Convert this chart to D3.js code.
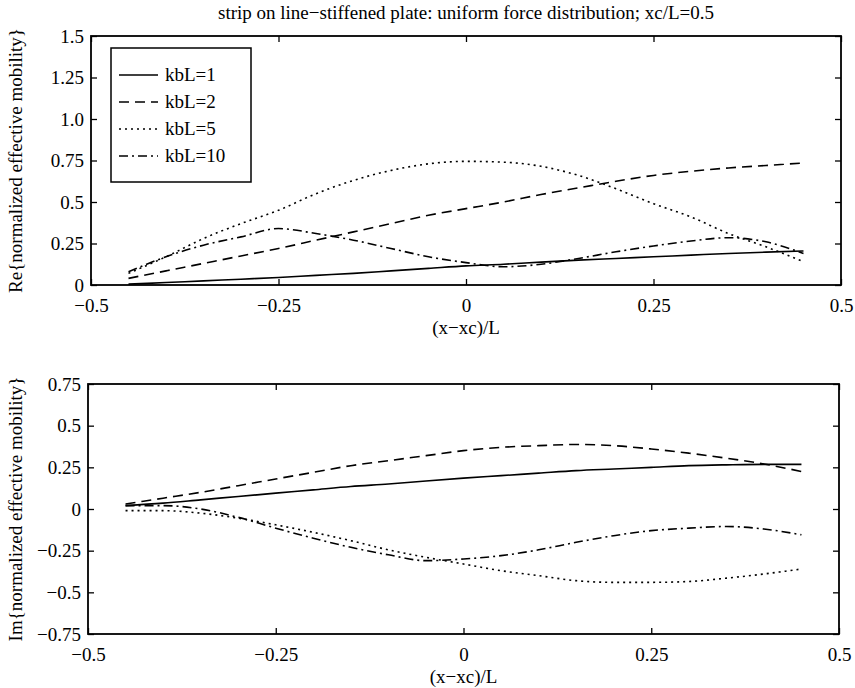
<!DOCTYPE html>
<html>
<head>
<meta charset="utf-8">
<script src="https://cdn.jsdelivr.net/npm/d3@7"></script>
<style>
  body { margin: 0; background: #fff; }
  svg, svg text { font-family: "Liberation Serif", "Times New Roman", serif; }
</style>
</head>
<body>
<div class="chart"></div>
<script>
'use strict';

// values, x = (x-xc)/L
const xPos = [-0.45, -0.4, -0.35, -0.3, -0.25, -0.2, -0.15, -0.1, -0.05, 0,
  0.05, 0.1, 0.15, 0.2, 0.25, 0.3, 0.35, 0.4, 0.45];
const seriesNames = ["kbL=1", "kbL=2", "kbL=5", "kbL=10"];

// Re{normalized effective mobility}
const reKbl1 = [0.005, 0.015, 0.025, 0.035, 0.045, 0.058, 0.07, 0.085, 0.1, 0.115,
  0.125, 0.138, 0.15, 0.16, 0.17, 0.18, 0.19, 0.198, 0.205];
const reKbl2 = [0.04, 0.085, 0.13, 0.175, 0.22, 0.27, 0.32, 0.37, 0.42, 0.46,
  0.5, 0.545, 0.585, 0.625, 0.66, 0.685, 0.705, 0.72, 0.735];
const reKbl5 = [0.07, 0.17, 0.28, 0.37, 0.45, 0.55, 0.63, 0.69, 0.73, 0.745,
  0.74, 0.715, 0.66, 0.58, 0.49, 0.41, 0.31, 0.23, 0.14];
const reKbl10 = [0.08, 0.17, 0.24, 0.29, 0.34, 0.31, 0.27, 0.22, 0.17, 0.135,
  0.11, 0.125, 0.16, 0.2, 0.235, 0.265, 0.285, 0.26, 0.19];

// Im{normalized effective mobility}
const imKbl1 = [0.02, 0.035, 0.055, 0.075, 0.095, 0.115, 0.135, 0.15, 0.168, 0.185,
  0.2, 0.215, 0.23, 0.24, 0.25, 0.26, 0.265, 0.268, 0.268];
const imKbl2 = [0.03, 0.065, 0.1, 0.14, 0.18, 0.22, 0.26, 0.29, 0.32, 0.35,
  0.37, 0.38, 0.387, 0.38, 0.36, 0.335, 0.305, 0.27, 0.225];
const imKbl5 = [-0.01, -0.01, -0.025, -0.055, -0.095, -0.14, -0.19, -0.245, -0.29, -0.33,
  -0.37, -0.4, -0.43, -0.44, -0.44, -0.435, -0.415, -0.39, -0.36];
const imKbl10 = [0.02, 0.02, 0.0, -0.05, -0.115, -0.175, -0.23, -0.275, -0.31, -0.3,
  -0.28, -0.245, -0.2, -0.16, -0.13, -0.115, -0.105, -0.12, -0.155];

const xTicks = [-0.5, -0.25, 0, 0.25, 0.5];
const xTickLabels = ["\u22120.5", "\u22120.25", "0", "0.25", "0.5"];
const reTicks = [0, 0.25, 0.5, 0.75, 1.0, 1.25, 1.5];
const reTickLabels = ["0", "0.25", "0.5", "0.75", "1.0", "1.25", "1.5"];
const imTicks = [-0.75, -0.5, -0.25, 0, 0.25, 0.5, 0.75];
const imTickLabels = ["\u22120.75", "\u22120.5", "\u22120.25", "0", "0.25", "0.5", "0.75"];

document.addEventListener('DOMContentLoaded', () => {

  const width = 855, height = 688;
  const fontSize = 19;
  const serif = "Liberation Serif, Times New Roman, serif";
  const dashes = [null, "10,6", "2,4", "9,4,2,4"];

  const svg = d3.select(".chart")
    .append("svg")
    .attr("width", width)
    .attr("height", height)
    .attr("font-family", serif);

  // title
  svg.append("text")
    .attr("x", 466)
    .attr("y", 19)
    .attr("text-anchor", "middle")
    .attr("font-size", 19)
    .text("strip on line\u2212stiffened plate: uniform force distribution; xc/L=0.5");

  function panel(opt) {
    const w = opt.w, h = opt.h;
    const g = svg.append("g")
      .attr("transform", `translate(${opt.left}, ${opt.top})`);

    const xScale = d3.scaleLinear().domain([-0.5, 0.5]).range([0, w]);
    const yScale = d3.scaleLinear().domain(opt.yDomain).range([h, 0]);

    // axes, ticks pointing inward like matlab
    const xAxis = d3.axisBottom(xScale).tickValues(xTicks)
      .tickFormat((d, i) => xTickLabels[i]).tickSize(-6).tickSizeOuter(0).tickPadding(12);
    const yAxis = d3.axisLeft(yScale).tickValues(opt.yTicks)
      .tickFormat((d, i) => opt.yTickLabels[i]).tickSize(-6).tickSizeOuter(0).tickPadding(7);

    const gx = g.append("g").attr("transform", `translate(0,${h})`).call(xAxis);
    const gy = g.append("g").call(yAxis);
    const gt = g.append("g")
      .call(d3.axisTop(xScale).tickValues(xTicks).tickFormat("").tickSize(-6).tickSizeOuter(0));
    const gr = g.append("g").attr("transform", `translate(${w},0)`)
      .call(d3.axisRight(yScale).tickValues(opt.yTicks).tickFormat("").tickSize(-6).tickSizeOuter(0));

    [gx, gy, gt, gr].forEach(a => a.attr("font-family", serif).attr("font-size", fontSize));
    g.selectAll(".domain").remove();
    g.selectAll(".tick line").attr("stroke", "#000").attr("stroke-width", 1.3);
    g.selectAll(".tick text").attr("fill", "#000");
    gx.selectAll(".tick text").attr("dy", "0.8em");

    g.append("rect")
      .attr("width", w)
      .attr("height", h)
      .attr("fill", "none")
      .attr("stroke", "#000")
      .attr("stroke-width", 1.8);

    // curves
    const line = d3.line()
      .x(d => xScale(d[0]))
      .y(d => yScale(d[1]))
      .curve(d3.curveMonotoneX);

    opt.series.forEach((vals, i) => {
      g.append("path")
        .datum(xPos.map((x, j) => [x, vals[j]]))
        .attr("d", line)
        .attr("fill", "none")
        .attr("stroke", "#000")
        .attr("stroke-width", 1.6)
        .attr("stroke-dasharray", dashes[i]);
    });

    // axis labels
    g.append("text")
      .attr("x", w / 2)
      .attr("y", h + 48.5)
      .attr("text-anchor", "middle")
      .attr("font-size", fontSize)
      .text("(x\u2212xc)/L");

    svg.append("text")
      .attr("transform", `translate(22, ${opt.top + h / 2}) rotate(-90)`)
      .attr("text-anchor", "middle")
      .attr("font-size", fontSize)
      .text(opt.yLabel);

    return g;
  }

  const top = panel({
    left: 91, top: 36, w: 750, h: 249,
    yDomain: [0, 1.5], yTicks: reTicks, yTickLabels: reTickLabels,
    series: [reKbl1, reKbl2, reKbl5, reKbl10],
    yLabel: "Re{normalized effective mobility}"
  });

  panel({
    left: 88, top: 384, w: 751, h: 250,
    yDomain: [-0.75, 0.75], yTicks: imTicks, yTickLabels: imTickLabels,
    series: [imKbl1, imKbl2, imKbl5, imKbl10],
    yLabel: "Im{normalized effective mobility}"
  });

  // legend
  const legend = top.append("g").attr("transform", "translate(20,12)");
  legend.append("rect")
    .attr("width", 140)
    .attr("height", 134)
    .attr("fill", "#fff")
    .attr("stroke", "#000")
    .attr("stroke-width", 1.5);
  const items = legend.selectAll("g.item")
    .data(seriesNames)
    .enter()
    .append("g")
    .attr("class", "item")
    .attr("transform", (d, i) => `translate(0, ${27 + i * 27})`);
  items.append("line")
    .attr("x1", 8)
    .attr("x2", 47)
    .attr("stroke", "#000")
    .attr("stroke-width", 1.6)
    .attr("stroke-dasharray", (d, i) => dashes[i]);
  items.append("text")
    .attr("x", 54)
    .attr("y", 6)
    .attr("font-size", fontSize)
    .text(d => d);
});
</script>
</body>
</html>
